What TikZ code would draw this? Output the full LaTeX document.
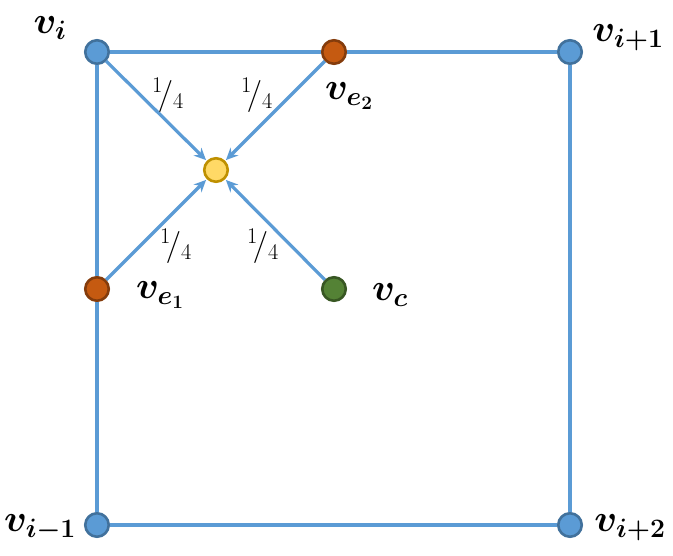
\RequirePackage{fix-cm}
\documentclass[tikz,border=0pt]{standalone}
\usepackage{bm}
\usetikzlibrary{arrows.meta}
\definecolor{lblue}{HTML}{5B9BD5}
\definecolor{dblue}{HTML}{41719C}
\definecolor{forange}{HTML}{C55A11}
\definecolor{dorange}{HTML}{843C0C}
\definecolor{fyellow}{HTML}{FFD966}
\definecolor{dyellow}{HTML}{BF9000}
\definecolor{fgreen}{HTML}{548235}
\definecolor{dgreen}{HTML}{385723}
\tikzset{
  x=1pt, y=-1pt,
  vtx/.style={circle, minimum size=23.5pt, inner sep=0pt, line width=2.6pt},
  bluev/.style={vtx, fill=lblue, draw=dblue},
  orangev/.style={vtx, fill=forange, draw=dorange},
  yellowv/.style={vtx, fill=fyellow, draw=dyellow},
  greenv/.style={vtx, fill=fgreen, draw=dgreen},
  edge/.style={draw=lblue, line width=3.2pt},
  arr/.style={draw=lblue, line width=3.2pt, -{Stealth[length=12pt,width=11pt]}, shorten >=1pt},
  lab/.style={font=\fontsize{38}{45}\selectfont, inner sep=0pt},
  frac/.style={font=\fontsize{32}{38}\selectfont, inner sep=0pt}
}
\begin{document}
\begin{tikzpicture}
\useasboundingbox (0,0) rectangle (673,556);
% vertices
\node[bluev] (vi) at (97,52) {};
\node[orangev] (ve2) at (334,52) {};
\node[bluev] (vip1) at (570,52) {};
\node[orangev] (ve1) at (97,289) {};
\node[greenv] (vc) at (334,289) {};
\node[yellowv] (cen) at (216,170) {};
\node[bluev] (vim1) at (97,525) {};
\node[bluev] (vip2) at (570,525) {};
% edges
\path[edge] (vi) -- (ve2);
\path[edge] (ve2) -- (vip1);
\path[edge] (vip1) -- (vip2);
\path[edge] (vip2) -- (vim1);
\path[edge] (vim1) -- (ve1);
\path[edge] (ve1) -- (vi);
% arrows
\path[arr] (vi) -- (cen);
\path[arr] (ve2) -- (cen);
\path[arr] (ve1) -- (cen);
\path[arr] (vc) -- (cen);
% weights
\node[frac] (w1) at (168,95) {$^{1}\!/_{4}$};
\node[frac] (w2) at (257,95) {$^{1}\!/_{4}$};
\node[frac] (w3) at (176,246) {$^{1}\!/_{4}$};
\node[frac] (w4) at (263,246) {$^{1}\!/_{4}$};
% labels
\node[lab] (li) at (50,28) {$\bm{v_{i}}$};
\node[lab] (lip1) at (628,38) {$\bm{v_{i+1}}$};
\node[lab] (le2) at (349,96) {$\bm{v_{e_2}}$};
\node[lab] (le1) at (160,295) {$\bm{v_{e_1}}$};
\node[lab] (lc) at (390,295) {$\bm{v_{c}}$};
\node[lab] (lim1) at (40,528) {$\bm{v_{i-1}}$};
\node[lab] (lip2) at (630,528) {$\bm{v_{i+2}}$};
\end{tikzpicture}
\end{document}
